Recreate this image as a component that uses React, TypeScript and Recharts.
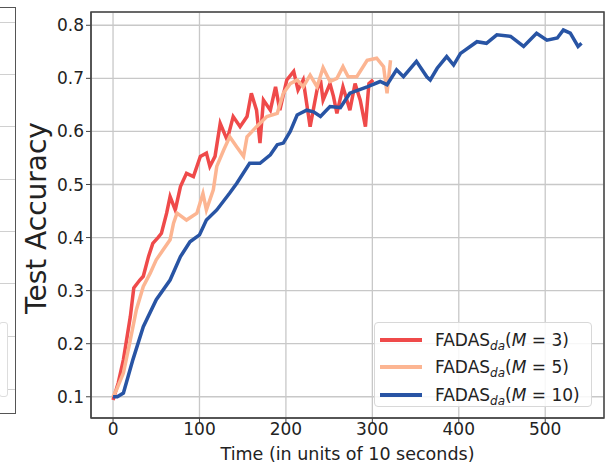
import React from 'react';
import {
  LineChart,
  Line,
  XAxis,
  YAxis,
  CartesianGrid,
  Legend,
  Label,
  ReferenceArea,
} from 'recharts';

interface Point {
  t: number;
  acc: number;
}

// FADAS_da (M = 3)
const m3Time = [
  0, 6, 12, 20, 24, 31, 35, 41, 46, 52, 56, 62, 66, 72, 78, 85, 93, 101, 108, 112,
  118, 124, 132, 139, 147, 155, 160, 166, 170, 174, 182, 188, 193, 201, 209, 214,
  220, 228, 236, 240, 243, 251, 255, 259, 266, 274, 280, 286, 292, 296, 301,
];
const m3Acc = [
  0.094, 0.126, 0.17, 0.251, 0.305, 0.32, 0.327, 0.364, 0.389, 0.4, 0.408, 0.446,
  0.477, 0.452, 0.496, 0.521, 0.515, 0.553, 0.559, 0.534, 0.553, 0.615, 0.584, 0.628,
  0.609, 0.628, 0.672, 0.64, 0.578, 0.659, 0.64, 0.684, 0.64, 0.697, 0.713, 0.678,
  0.697, 0.609, 0.678, 0.697, 0.659, 0.69, 0.666, 0.634, 0.684, 0.64, 0.69, 0.659,
  0.609, 0.69, 0.697,
];

// FADAS_da (M = 5)
const m5Time = [
  0, 4, 12, 20, 27, 35, 43, 50, 58, 66, 70, 74, 85, 97, 104, 108, 116, 120, 128, 135,
  143, 151, 155, 166, 178, 190, 197, 205, 213, 220, 228, 236, 243, 251, 259, 266,
  272, 282, 294, 305, 313, 317, 321,
];
const m5Acc = [
  0.1, 0.113, 0.145, 0.207, 0.264, 0.308, 0.333, 0.358, 0.377, 0.396, 0.427, 0.446,
  0.433, 0.446, 0.483, 0.452, 0.49, 0.534, 0.565, 0.59, 0.571, 0.553, 0.59, 0.609,
  0.628, 0.634, 0.672, 0.69, 0.697, 0.684, 0.706, 0.684, 0.72, 0.694, 0.7, 0.722,
  0.703, 0.703, 0.734, 0.738, 0.722, 0.672, 0.734,
];

// FADAS_da (M = 10)
const m10Time = [
  0, 5, 12, 23, 35, 50, 66, 78, 89, 100, 108, 120, 135, 143, 158, 170, 182, 190, 197,
  205, 213, 224, 232, 240, 251, 263, 274, 294, 309, 317, 328, 336, 351, 363, 367,
  375, 386, 394, 402, 421, 432, 444, 460, 475, 490, 502, 514, 521, 529, 538, 542,
];
const m10Acc = [
  0.1, 0.1, 0.107, 0.17, 0.232, 0.283, 0.32, 0.364, 0.392, 0.405, 0.433, 0.452,
  0.484, 0.502, 0.54, 0.54, 0.556, 0.575, 0.578, 0.6, 0.631, 0.64, 0.637, 0.628,
  0.647, 0.645, 0.672, 0.684, 0.694, 0.688, 0.716, 0.703, 0.732, 0.703, 0.697,
  0.719, 0.741, 0.725, 0.747, 0.769, 0.766, 0.782, 0.779, 0.76, 0.785, 0.772, 0.776,
  0.791, 0.785, 0.76, 0.766,
];

const xTicks = [0, 100, 200, 300, 400, 500];
const yTicks = [0.1, 0.2, 0.3, 0.4, 0.5, 0.6, 0.7, 0.8];
const xDomain: [number, number] = [-25.5, 568];
const yDomain: [number, number] = [0.06, 0.825];

const toPoints = (t: number[], a: number[]): Point[] =>
  t.map((v, i) => ({ t: v, acc: a[i] }));

const series = [
  { m: 3, color: '#ef4a4a', data: toPoints(m3Time, m3Acc) },
  { m: 5, color: '#fcb592', data: toPoints(m5Time, m5Acc) },
  { m: 10, color: '#2854a4', data: toPoints(m10Time, m10Acc) },
];

const FONT = '"DejaVu Sans", Verdana, sans-serif';

const renderLegend = () => (
  <div
    style={{
      width: 218,
      height: 85,
      border: '1px solid #d8d8d8',
      borderRadius: 4,
      background: 'rgba(255,255,255,0.85)',
      boxSizing: 'border-box',
      paddingTop: 3,
      fontFamily: FONT,
      fontSize: 17,
      color: '#222',
    }}
  >
    {series.map((s) => (
      <div
        key={s.m}
        style={{ display: 'flex', alignItems: 'center', height: 27.5 }}
      >
        <span
          style={{
            display: 'inline-block',
            width: 42,
            height: 4,
            background: s.color,
            marginLeft: 5,
            marginRight: 13,
          }}
        />
        <span style={{ whiteSpace: 'nowrap' }}>
          FADAS
          <i style={{ fontSize: 12, position: 'relative', top: 4 }}>da</i>
          (<i>M</i> = {s.m})
        </span>
      </div>
    ))}
  </div>
);

// sliver of the neighbouring panel on the left
const NeighbourPanel: React.FC = () => (
  <div
    style={{
      position: 'absolute',
      left: -2,
      top: 7,
      width: 16,
      height: 405,
      border: '1.5px solid #555',
      background: '#fff',
    }}
  >
    {[14, 66, 118, 171, 223, 275, 328, 381].map((y) => (
      <div
        key={y}
        style={{
          position: 'absolute',
          left: 0,
          right: 0,
          top: y,
          height: 1,
          background: '#d0d0d0',
        }}
      />
    ))}
    <div
      style={{
        position: 'absolute',
        left: 0,
        width: 7,
        top: 314,
        height: 73,
        border: '1px solid #ddd',
        borderRadius: 3,
        background: '#fff',
      }}
    />
  </div>
);

const App: React.FC = () => (
  <div style={{ position: 'absolute', left: 0, top: 0, width: 616, height: 466, background: '#fff' }}>
    <NeighbourPanel />
    <LineChart
      width={616}
      height={466}
      margin={{ top: 12, right: 12, bottom: 0, left: 0 }}
      style={{ fontFamily: FONT }}
    >
      <CartesianGrid stroke="#c8c8c8" strokeWidth={1.3} />
      <XAxis
        dataKey="t"
        type="number"
        domain={xDomain}
        ticks={xTicks}
        allowDataOverflow
        height={48}
        tickSize={5}
        tickMargin={0}
        stroke="#444"
        tick={{ fill: '#222', fontSize: 17, fontFamily: FONT }}
      >
        <Label
          content={() => (
            <text
              x={347.5}
              y={460}
              textAnchor="middle"
              fontSize={17.5}
              fontFamily={FONT}
              fill="#222"
            >
              Time (in units of 10 seconds)
            </text>
          )}
        />
      </XAxis>
      <YAxis
        type="number"
        domain={yDomain}
        ticks={yTicks}
        allowDataOverflow
        width={91}
        tickSize={5}
        tickMargin={2}
        stroke="#444"
        tickFormatter={(v: number) => v.toFixed(1)}
        tick={{ fill: '#222', fontSize: 17, fontFamily: FONT }}
      >
        <Label
          content={() => (
            <text
              x={46}
              y={218}
              transform="rotate(-90 46 218)"
              textAnchor="middle"
              fontSize={28}
              fontFamily={FONT}
              fill="#222"
            >
              Test Accuracy
            </text>
          )}
        />
      </YAxis>
      {series.map((s) => (
        <Line
          key={s.m}
          data={s.data}
          dataKey="acc"
          type="linear"
          stroke={s.color}
          strokeWidth={3.5}
          dot={false}
          isAnimationActive={false}
        />
      ))}
      <ReferenceArea
        x1={xDomain[0]}
        x2={xDomain[1]}
        y1={yDomain[0]}
        y2={yDomain[1]}
        fill="none"
        stroke="#444"
        strokeWidth={1.5}
      />
      <Legend
        layout="vertical"
        align="center"
        verticalAlign="middle"
        content={renderLegend}
        wrapperStyle={{ left: 374, top: 322, width: 218, height: 85 }}
      />
    </LineChart>
  </div>
);

export default App;
